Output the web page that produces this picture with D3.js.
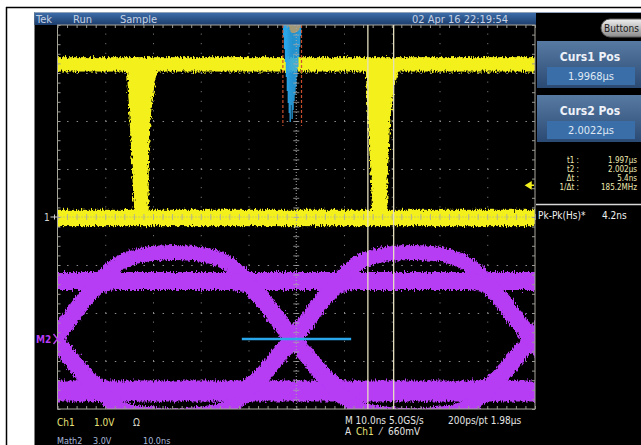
<!DOCTYPE html>
<html><head><meta charset="utf-8">
<script src="https://cdn.jsdelivr.net/npm/d3@7/dist/d3.min.js"></script>
<style>
html,body{margin:0;padding:0;background:#fff;overflow:hidden;}
svg{display:block;}
text{font-family:"Liberation Sans Narrow","Arial Narrow","DejaVu Sans Condensed","Liberation Sans",Arial,sans-serif;}
</style></head><body>
<svg id="c" width="641" height="445"></svg>
<script>
// ---------------- data ----------------
const timeDomain = [1931.8, 2031.8];          // ns, 10 ns/div
const ch1Domain = [-4, 4];                     // V, 1.0 V/div
const math2Domain = [-4.375, 19.625];          // V, 3.0 V/div
const headerLabels = ["Tek", "Run", "Sample"];
const dateLabel = "02 Apr 16 22:19:54";

// Ch1 (yellow) persistence bands (V)
const ch1HighBand = [3.03, 3.33];
const ch1LowBand = [-0.19, 0.15];
// negative pulses: envelope per voltage level (left/right time, ns)
const dip1 = [
  {v: 3.15, l: 1946.2, r: 1953.4}, {v: 3.0, l: 1946.4, r: 1952.7}, {v: 2.7, l: 1946.5, r: 1952.1},
  {v: 2.44, l: 1946.7, r: 1951.7}, {v: 2.02, l: 1946.9, r: 1951.3}, {v: 1.4, l: 1947.2, r: 1951.0},
  {v: 0.6, l: 1947.6, r: 1950.9}, {v: 0.05, l: 1947.8, r: 1950.9}
];
const dip2 = [
  {v: 3.15, l: 1996.3, r: 2003.7}, {v: 3.0, l: 1996.4, r: 2003.1}, {v: 2.7, l: 1996.5, r: 2002.3},
  {v: 2.44, l: 1996.6, r: 2001.9}, {v: 2.02, l: 1996.8, r: 2001.5}, {v: 1.4, l: 1997.1, r: 2001.2},
  {v: 0.6, l: 1997.5, r: 2000.9}, {v: 0.05, l: 1997.7, r: 2000.9}
];
const triggerLevel = 0.66; // V

// Math2 (violet) eye diagram
const eyeCrossings = [1931.1, 1981.1, 2031.1];   // ns
const railHigh = 3.62, railLow = -3.25;          // V
const edgeRise = [[-14,-3.25],[-10,-3.1],[-7,-2.45],[-3,-1.05],[0,0],[3,1.15],[7,2.7],[10,3.45],[14,3.62]];
const edgeFall = [[-14,3.62],[-10,3.45],[-7,2.7],[-3,1.15],[0,0],[3,-1.05],[7,-2.45],[10,-3.1],[14,-3.25]];
const upperArc = [[0,0],[3,1.15],[7,2.7],[10,3.8],[13,4.6],[17,5.15],[21,5.35],[25,5.4],[29,5.35],[33,5.15],[37,4.6],[40,3.8],[43,2.7],[47,1.15],[50,0]];
const lowerArc = [[0,0],[3,-1.05],[7,-2.45],[10,-3.45],[13,-4.2],[17,-4.6],[21,-4.75],[25,-4.8],[29,-4.75],[33,-4.6],[37,-4.2],[40,-3.45],[43,-2.45],[47,-1.05],[50,0]];

// crossing-time histogram (hits per 0.2 ns bin)
const histStart = 1979.0, histBin = 0.2;
const histCounts = [12,24,37,52,66,78,88,97,80,94,85,76,70,62,52,42,32,22,11];
const histCap    = [0,0,0,0,0,0,2,5,7,8,8,8,8,7,7,6,5,3,0];
const histLimits = [1979.0, 1982.9];
const histBox = [1970.4, 1993.3];   // measurement window at Math2 0 V

// cursors
const cursors = [1996.8, 2002.2];
const cursorPanels = [
  {title: "Curs1 Pos", value: "1.9968\u00b5s"},
  {title: "Curs2 Pos", value: "2.0022\u00b5s"}
];
const readoutLabels = ["t1 :", "t2 :", "\u0394t :", "1/\u0394t :"];
const readoutValues = ["1.997\u00b5s", "2.002\u00b5s", "5.4ns", "185.2MHz"];
const measLabel = "Pk-Pk(Hs)*", measValue = "4.2ns";

// ---------------- layout ----------------
const svg = d3.select("#c");
const L = 57.5, R = 535, T = 25, B = 409;
const x = d3.scaleLinear().domain(timeDomain).range([L, R]);
const yC = d3.scaleLinear().domain(ch1Domain).range([B, T]);
const yM = d3.scaleLinear().domain(math2Domain).range([B, T]);
const hY = d3.scaleLinear().domain([0, 100]).range([T, T + 100]);

const YEL = "#f3f01e", VIO = "#b63cf4", CYAN = "#2aa6ea";

// white page frame
svg.append("rect").attr("width", 641).attr("height", 445).attr("fill", "#fff");
svg.append("line").attr("x1", 6).attr("x2", 641).attr("y1", 7.5).attr("y2", 7.5).attr("stroke", "#000").attr("stroke-width", 1.5);
svg.append("line").attr("x1", 6.5).attr("x2", 6.5).attr("y1", 7).attr("y2", 445).attr("stroke", "#000").attr("stroke-width", 1.5);
svg.append("rect").attr("x", 34.5).attr("y", 12).attr("width", 607).attr("height", 433).attr("fill", "#000");

const defs = svg.append("defs");
const hg = defs.append("linearGradient").attr("id", "hdr").attr("x1", 0).attr("x2", 0).attr("y1", 0).attr("y2", 1);
hg.append("stop").attr("offset", 0).attr("stop-color", "#3f70ad");
hg.append("stop").attr("offset", 1).attr("stop-color", "#1c3d6c");
const pg = defs.append("linearGradient").attr("id", "pan").attr("x1", 0).attr("x2", 0).attr("y1", 0).attr("y2", 1);
pg.append("stop").attr("offset", 0).attr("stop-color", "#577aa3");
pg.append("stop").attr("offset", 1).attr("stop-color", "#2b4a73");
const bg = defs.append("linearGradient").attr("id", "btn").attr("x1", 0).attr("x2", 0).attr("y1", 0).attr("y2", 1);
bg.append("stop").attr("offset", 0).attr("stop-color", "#f0f0f0");
bg.append("stop").attr("offset", 1).attr("stop-color", "#8a8a8a");
defs.append("clipPath").attr("id", "plotclip").append("rect").attr("x", L).attr("y", T).attr("width", R - L).attr("height", B - T);
const f = defs.append("filter").attr("id", "rough").attr("x", "-2%").attr("y", "-5%").attr("width", "104%").attr("height", "110%");
f.append("feTurbulence").attr("type", "fractalNoise").attr("baseFrequency", "0.9 0.25").attr("numOctaves", 2).attr("seed", 7).attr("result", "n");
f.append("feDisplacementMap").attr("in", "SourceGraphic").attr("in2", "n").attr("scale", 7).attr("xChannelSelector", "R").attr("yChannelSelector", "G");

// header bar
svg.append("rect").attr("x", 34.5).attr("y", 12).attr("width", R - 34.5 + 1).attr("height", 13).attr("fill", "url(#hdr)");
svg.append("line").attr("x1", 34.5).attr("x2", 641).attr("y1", 12.5).attr("y2", 12.5).attr("stroke", "#8fa2ba").attr("stroke-width", 1);
const hx = [36, 73, 120];
svg.selectAll("text.hdr").data(headerLabels).join("text").attr("class", "hdr")
  .attr("x", (d, i) => hx[i]).attr("y", 23).attr("fill", "#c6d2e4").attr("font-size", 11).text(d => d);
svg.append("text").attr("x", 460).attr("y", 23).attr("text-anchor", "middle").attr("fill", "#c6d2e4").attr("font-size", 11).text(dateLabel);

// ---------------- graticule ----------------
const divT = d3.range(0, 11).map(i => timeDomain[0] + i * 10);
const divV = d3.range(-4, 5);
const minT = d3.range(0, 51).map(i => timeDomain[0] + i * 2);
const minV = d3.range(0, 41).map(i => -4 + i * 0.2);
const gridG = svg.append("g");
const dx = x(timeDomain[0] + 2) - x(timeDomain[0]);
const dy = yC(0) - yC(0.2);
gridG.append("g").attr("transform", `translate(0,${B})`)
  .call(d3.axisBottom(x).tickValues(divT.slice(1, -1).filter((d, i) => i !== 4)).tickSize(-(B - T)).tickFormat(""))
  .call(g => g.select(".domain").remove())
  .call(g => g.selectAll("line").attr("stroke", "#8a8a8a").attr("stroke-dasharray", `1 ${dy - 1}`));
gridG.append("g").attr("transform", `translate(${L},0)`)
  .call(d3.axisLeft(yC).tickValues(divV.slice(1, -1).filter(d => d !== 0)).tickSize(-(R - L)).tickFormat(""))
  .call(g => g.select(".domain").remove())
  .call(g => g.selectAll("line").attr("stroke", "#8a8a8a").attr("stroke-dasharray", `1.5 ${dx - 1.5}`));

// ---------------- Ch1 yellow ----------------
const plotG = svg.append("g").attr("clip-path", "url(#plotclip)");
const yelG = plotG.append("g").attr("filter", "url(#rough)");
[ch1HighBand, ch1LowBand].forEach(b => {
  yelG.append("rect").attr("x", x(timeDomain[0]) - 5).attr("width", x(timeDomain[1]) - x(timeDomain[0]) + 10)
    .attr("y", yC(b[1])).attr("height", yC(b[0]) - yC(b[1])).attr("fill", YEL);
});
const dipArea = d3.area().y(d => yC(d.v)).x0(d => x(d.l)).x1(d => x(d.r)).curve(d3.curveMonotoneY);
[dip1, dip2].forEach(d => yelG.append("path").attr("d", dipArea(d)).attr("fill", YEL));

// ---------------- Math2 violet eye ----------------
const eyeG = plotG.append("g").attr("filter", "url(#rough)").attr("fill", "none").attr("stroke", VIO);
const lineAt = c => d3.line().x(d => x(c + d[0])).y(d => yM(d[1])).curve(d3.curveMonotoneX);
eyeG.append("path").attr("d", lineAt(0)([[timeDomain[0] - 5, railHigh], [timeDomain[1] + 5, railHigh]])).attr("stroke-width", 18);
eyeG.append("path").attr("d", lineAt(0)([[timeDomain[0] - 5, railLow], [timeDomain[1] + 5, railLow]])).attr("stroke-width", 21);
eyeCrossings.forEach((c, i) => {
  eyeG.append("path").attr("d", lineAt(c)(edgeRise)).attr("stroke-width", 17);
  eyeG.append("path").attr("d", lineAt(c)(edgeFall)).attr("stroke-width", 17);
  if (i < eyeCrossings.length - 1) {
    eyeG.append("path").attr("d", lineAt(c)(upperArc)).attr("stroke-width", 15);
    eyeG.append("path").attr("d", lineAt(c)(lowerArc)).attr("stroke-width", 15);
  }
});

// ---------------- histogram ----------------
const bw = x(histStart + histBin) - x(histStart);
plotG.selectAll("rect.hist").data(histCounts).join("rect").attr("class", "hist")
  .attr("x", (d, i) => x(histStart + i * histBin)).attr("width", bw + 0.3)
  .attr("y", hY(0)).attr("height", d => hY(d) - hY(0)).attr("fill", CYAN);
plotG.selectAll("rect.cap").data(histCap).join("rect").attr("class", "cap")
  .attr("x", (d, i) => x(histStart + i * histBin)).attr("width", bw + 0.3)
  .attr("y", hY(0)).attr("height", d => hY(d) - hY(0)).attr("fill", "#b39a6c");
histLimits.forEach(t => plotG.append("line").attr("x1", x(t)).attr("x2", x(t)).attr("y1", T).attr("y2", hY(101))
  .attr("stroke", "#c8502e").attr("stroke-width", 1.2).attr("stroke-dasharray", "3 2"));

// centre lines (on top)
const cx = x((timeDomain[0] + timeDomain[1]) / 2), cy = yC(0);
const cG = svg.append("g");
cG.append("line").attr("x1", cx).attr("x2", cx).attr("y1", T).attr("y2", B).attr("stroke", "#a8a8a8").attr("stroke-dasharray", "1 2");
cG.append("line").attr("x1", L).attr("x2", R).attr("y1", cy).attr("y2", cy).attr("stroke", "#a8a8a8").attr("stroke-dasharray", "1 2");
cG.append("g").attr("transform", `translate(0,${cy})`).call(d3.axisTop(x).tickValues(minT).tickSize(3).tickFormat(""));
cG.append("g").attr("transform", `translate(0,${cy})`).call(d3.axisBottom(x).tickValues(minT).tickSize(3).tickFormat(""));
cG.append("g").attr("transform", `translate(${cx},0)`).call(d3.axisLeft(yC).tickValues(minV).tickSize(3).tickFormat(""));
cG.append("g").attr("transform", `translate(${cx},0)`).call(d3.axisRight(yC).tickValues(minV).tickSize(3).tickFormat(""));
cG.selectAll(".domain").remove();
cG.selectAll(".tick line").attr("stroke", "#a8a8a8").attr("opacity", 0.8);

// border with minor ticks
const bG = svg.append("g");
bG.append("rect").attr("x", L).attr("y", T).attr("width", R - L).attr("height", B - T).attr("fill", "none").attr("stroke", "#a9a79c").attr("stroke-width", 1);
bG.append("g").attr("transform", `translate(0,${T})`).call(d3.axisTop(x).tickValues(minT).tickSize(-3).tickFormat(""));
bG.append("g").attr("transform", `translate(0,${B})`).call(d3.axisBottom(x).tickValues(minT).tickSize(-3).tickFormat(""));
bG.append("g").attr("transform", `translate(${L},0)`).call(d3.axisLeft(yC).tickValues(minV).tickSize(-3).tickFormat(""));
bG.append("g").attr("transform", `translate(${R},0)`).call(d3.axisRight(yC).tickValues(minV).tickSize(-3).tickFormat(""));
bG.selectAll(".domain").remove();
bG.selectAll(".tick line").attr("stroke", "#9a9a92");

// histogram window line
svg.append("line").attr("x1", x(histBox[0])).attr("x2", x(histBox[1])).attr("y1", yM(0)).attr("y2", yM(0))
  .attr("stroke", CYAN).attr("stroke-width", 2.5);

// cursors
svg.selectAll("line.cur").data(cursors).join("line").attr("class", "cur")
  .attr("x1", d => x(d)).attr("x2", d => x(d)).attr("y1", T).attr("y2", B)
  .attr("stroke", "#e6dfc0").attr("stroke-width", 1.3);

// markers
svg.append("text").attr("x", 44).attr("y", cy + 4).attr("fill", "#d0d0d0").attr("font-size", 10).text("1");
svg.append("path").attr("d", `M${L - 7},${cy}H${L}M${L - 3},${cy - 2.5}V${cy + 2.5}`).attr("stroke", "#d0d0d0").attr("stroke-width", 1);
svg.append("text").attr("x", 36).attr("y", yM(0) + 4).attr("fill", VIO).attr("font-size", 10).attr("font-weight", "bold").text("M2");
svg.append("path").attr("d", `M${L - 4},${yM(0) - 5}L${L},${yM(0)}L${L - 4},${yM(0) + 5}`).attr("stroke", VIO).attr("fill", "none").attr("stroke-width", 1.5);
const ty = yC(triggerLevel);
svg.append("path").attr("d", `M${R - 9},${ty}L${R - 4},${ty - 3}L${R - 4},${ty + 3}Z M${R - 5},${ty}H${R - 1}`).attr("fill", YEL).attr("stroke", YEL).attr("stroke-width", 1.5);

// ---------------- right panel ----------------
svg.append("rect").attr("x", 601).attr("y", 19).attr("width", 48).attr("height", 18).attr("rx", 9).attr("fill", "url(#btn)").attr("stroke", "#5a5a5a");
svg.append("text").attr("x", 604).attr("y", 32).attr("fill", "#1a1a1a").attr("font-size", 10).text("Buttons");
const panelY = [41, 95];
cursorPanels.forEach((p, i) => {
  const y0 = panelY[i];
  svg.append("rect").attr("x", 537).attr("y", y0).attr("width", 104).attr("height", 47).attr("fill", "url(#pan)");
  svg.append("text").attr("x", 590).attr("y", y0 + 20).attr("text-anchor", "middle").attr("fill", "#eef2f8").attr("font-size", 12).attr("font-weight", "bold").text(p.title);
  svg.append("rect").attr("x", 547).attr("y", y0 + 26).attr("width", 88).attr("height", 18).attr("fill", "#3a6ea9");
  svg.append("text").attr("x", 591).attr("y", y0 + 39).attr("text-anchor", "middle").attr("fill", "#dfe8f2").attr("font-size", 11).text(p.value);
});
readoutLabels.forEach((t, i) => {
  svg.append("text").attr("x", 579).attr("y", 163 + i * 9).attr("text-anchor", "end").attr("fill", "#efe9b0").attr("font-size", 8).text(t);
  svg.append("text").attr("x", 637).attr("y", 163 + i * 9).attr("text-anchor", "end").attr("fill", "#efe9b0").attr("font-size", 8).text(readoutValues[i]);
});
svg.append("line").attr("x1", 536).attr("x2", 641).attr("y1", 204.5).attr("y2", 204.5).attr("stroke", "#d8d8d8").attr("stroke-width", 1.5);
svg.append("text").attr("x", 538).attr("y", 219).attr("fill", "#f0f0f0").attr("font-size", 10).text(measLabel);
svg.append("text").attr("x", 602).attr("y", 219).attr("fill", "#f0f0f0").attr("font-size", 10).text(measValue);

// ---------------- bottom readouts ----------------
const bt = (t, xx, yy, col, fs) => svg.append("text").attr("x", xx).attr("y", yy).attr("fill", col).attr("font-size", fs || 10).text(t);
bt("Ch1", 57, 426, "#e9e27a"); bt("1.0V", 94, 426, "#e9e27a"); bt("\u03a9", 133, 426, "#d8d8c8");
bt("Math2", 57, 443.5, "#a9b8da", 9); bt("3.0V", 93, 443.5, "#a9b8da", 9); bt("10.0ns", 143, 443.5, "#a9b8da", 9);
bt("M 10.0ns 5.0GS/s", 345, 424, "#e4e4e4"); bt("200ps/pt 1.98\u00b5s", 448, 424, "#e4e4e4");
bt("A", 345, 435, "#e4e4e4"); bt("Ch1", 356, 435, "#e9e27a"); bt("\u2044", 380, 435, "#e4e4e4"); bt("660mV", 388, 435, "#e4e4e4");
</script>
</body></html>
